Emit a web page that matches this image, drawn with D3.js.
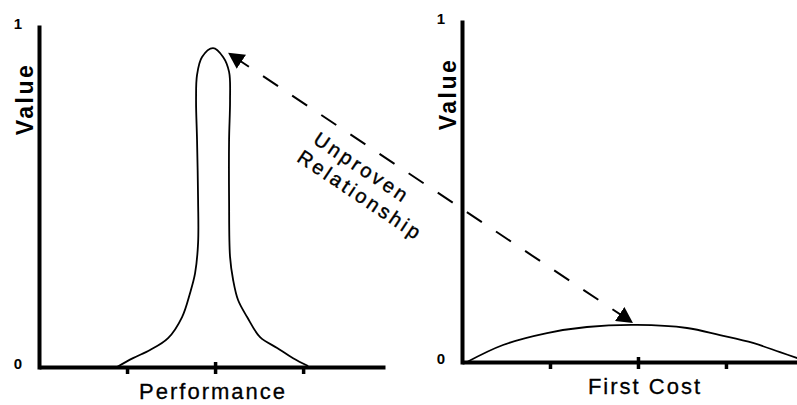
<!DOCTYPE html>
<html><head><meta charset="utf-8">
<script src="https://cdn.jsdelivr.net/npm/d3@7"></script>
<style>html,body{margin:0;padding:0;background:#fff;} svg{display:block;background:#fff}</style>
</head><body>
<svg id="chart" width="797" height="405"></svg>
<script>
// ---------- data ----------
const yTicks = [0, 1];
const yTickLabels = ["0", "1"];
const xTicks = [1, 2, 3];
const yAxisTitle = "Value";
const xAxisTitles = ["Performance", "First Cost"];

// Performance: value curve (narrow peak)
const perfX = [0.886, 1.068, 1.261, 1.466, 1.625, 1.716, 1.773, 1.807, 1.807, 1.795, 1.784, 1.795, 1.852, 1.977,
               2.091, 2.159, 2.170, 2.159, 2.159, 2.170, 2.205, 2.261, 2.364, 2.511, 2.705, 2.886, 3.057];
const perfY = [0.000, 0.026, 0.050, 0.085, 0.147, 0.218, 0.276, 0.365, 0.491, 0.668, 0.785, 0.859, 0.912, 0.938,
               0.912, 0.868, 0.785, 0.668, 0.491, 0.324, 0.256, 0.197, 0.147, 0.088, 0.056, 0.026, 0.003];

// First Cost: value curve (flat dome)
const costX = [0.057, 0.466, 0.966, 1.420, 1.989, 2.557, 2.932, 3.307, 3.614, 3.840];
const costY = [0.000, 0.050, 0.085, 0.103, 0.109, 0.100, 0.079, 0.056, 0.029, 0.009];

// annotation arrow (data coords of each panel)
const arrowFrom = [2.148, 0.924];   // in Performance panel
const arrowTo = [1.943, 0.115];     // in First Cost panel
const arrowText = ["Unproven", "Relationship"];

// ---------- layout ----------
const svg = d3.select("#chart");
const FONT = "'Liberation Sans', Arial, Helvetica, sans-serif";

const panels = [
  { title: xAxisTitles[0], xs: perfX, ys: perfY,
    x: d3.scaleLinear().domain([0, 3.93]).range([39, 385]),
    y: d3.scaleLinear().domain([0, 1]).range([367, 27]), titleDx: -2, titleSpacing: 2 },
  { title: xAxisTitles[1], xs: costX, ys: costY,
    x: d3.scaleLinear().domain([0, 3.83]).range([462, 799]),
    y: d3.scaleLinear().domain([0, 1]).range([362, 22]), titleDx: 7, titleSpacing: 2 }
];

// markers
const defs = svg.append("defs");
defs.append("marker")
  .attr("id", "ah")
  .attr("viewBox", "0 -8.5 16 17")
  .attr("refX", 16).attr("refY", 0)
  .attr("markerWidth", 16).attr("markerHeight", 17)
  .attr("markerUnits", "userSpaceOnUse")
  .attr("orient", "auto-start-reverse")
  .append("path").attr("d", "M0,-8.5L16,0L0,8.5Z").attr("fill", "#000");

panels.forEach(p => {
  const g = svg.append("g");
  const [x0] = p.x.range();
  const [yb, yt] = p.y.range();

  // curve
  const pts = p.xs.map((v, i) => [v, p.ys[i]]);
  g.append("path")
    .datum(pts)
    .attr("fill", "none")
    .attr("stroke", "#000")
    .attr("stroke-width", 1.8)
    .attr("d", d3.line().x(d => p.x(d[0])).y(d => p.y(d[1])).curve(d3.curveCatmullRom.alpha(0.5)));

  // x axis
  const xa = g.append("g")
    .attr("transform", `translate(0,${yb})`)
    .call(d3.axisBottom(p.x).tickValues(xTicks).tickSize(7).tickSizeOuter(0).tickFormat(""));
  xa.select(".domain").attr("stroke-width", 4).attr("stroke-linecap", "butt");
  xa.selectAll(".tick line").attr("stroke-width", 3.5)
    .attr("y1", d => d === 2 ? -5 : 0);

  // y axis
  const ya = g.append("g")
    .attr("transform", `translate(${x0},0)`)
    .call(d3.axisLeft(p.y).tickValues(yTicks).tickSize(0).tickSizeOuter(0).tickFormat(""));
  ya.select(".domain").attr("stroke-width", 4).attr("stroke-linecap", "square");

  // y tick labels
  g.selectAll("text.ylab")
    .data(yTicks)
    .join("text")
    .attr("class", "ylab")
    .attr("x", x0 - 17)
    .attr("y", d => p.y(d) + 2)
    .attr("text-anchor", "end")
    .attr("font-family", FONT).attr("font-size", 15).attr("font-weight", "bold")
    .attr("fill", "#000")
    .text((d, i) => yTickLabels[i]);

  // y title
  svg.append("text")
    .attr("transform", `translate(${x0 - 6},${yt + 72}) rotate(-90)`)
    .attr("text-anchor", "middle")
    .attr("font-family", FONT).attr("font-size", 23).attr("font-weight", "bold")
    .attr("letter-spacing", 2.5)
    .text(yAxisTitle);

  // x title
  svg.append("text")
    .attr("x", p.x(2) + p.titleDx).attr("y", yb + 32)
    .attr("text-anchor", "middle")
    .attr("font-family", FONT).attr("font-size", 22)
    .attr("letter-spacing", p.titleSpacing)
    .attr("stroke", "#000").attr("stroke-width", 0.3)
    .text(p.title);
});

// arrow
const s = [panels[0].x(arrowFrom[0]), panels[0].y(arrowFrom[1])];
const e = [panels[1].x(arrowTo[0]), panels[1].y(arrowTo[1])];
svg.append("line")
  .attr("x1", s[0]).attr("y1", s[1]).attr("x2", e[0]).attr("y2", e[1])
  .attr("stroke", "#000").attr("stroke-width", 2)
  .attr("stroke-dasharray", "18,17").attr("stroke-dashoffset", 28)
  .attr("marker-start", "url(#ah)").attr("marker-end", "url(#ah)");

const ang = Math.atan2(e[1] - s[1], e[0] - s[0]) * 180 / Math.PI;
const ag = svg.append("g").attr("transform", `translate(${s[0]},${s[1]}) rotate(${ang})`);
const along = [175, 189], perp = [28, 52];
arrowText.forEach((t, i) => {
  ag.append("text")
    .attr("x", along[i]).attr("y", perp[i])
    .attr("text-anchor", "middle")
    .attr("font-family", FONT).attr("font-size", 20)
    .attr("letter-spacing", 3)
    .attr("stroke", "#000").attr("stroke-width", 0.4)
    .text(t);
});
</script>
</body></html>
